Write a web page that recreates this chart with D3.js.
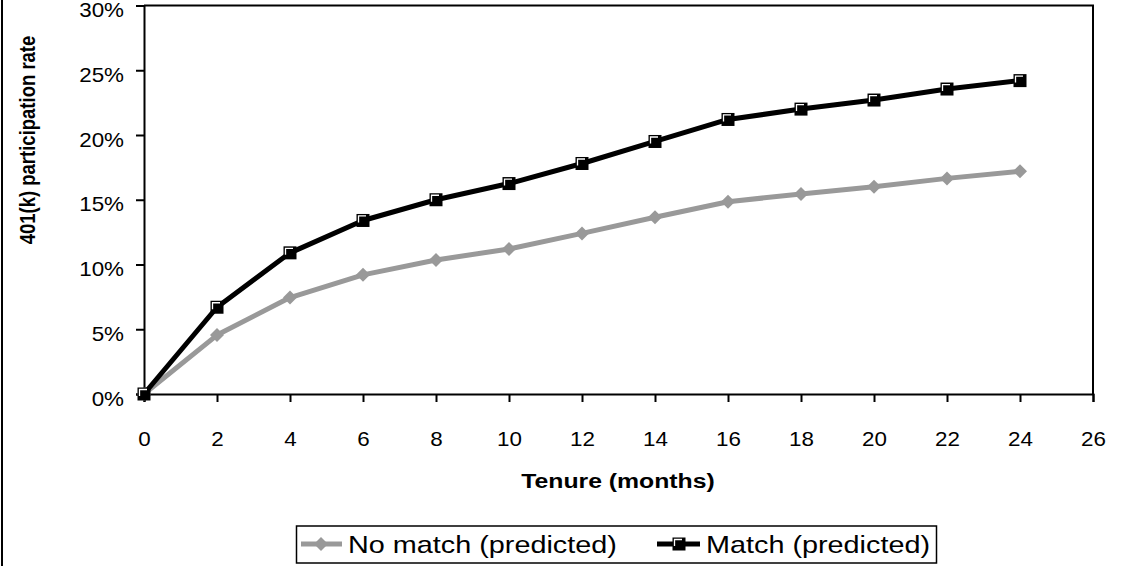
<!DOCTYPE html>
<html><head><meta charset="utf-8">
<script src="https://cdn.jsdelivr.net/npm/d3@7"></script>
<style>body{margin:0;background:#fff}svg{display:block;font-family:"Liberation Sans",Arial,sans-serif}</style>
</head><body>
<svg id="c" width="1129" height="566"></svg>
<script>
const tenure = [0,2,4,6,8,10,12,14,16,18,20,22,24];
const noMatch = [0,4.55,7.45,9.2,10.35,11.2,12.4,13.65,14.85,15.45,16.0,16.65,17.2];
const match = [0,6.7,10.9,13.4,15.0,16.25,17.8,19.5,21.2,22.0,22.7,23.55,24.2];
const xTicks = [0,2,4,6,8,10,12,14,16,18,20,22,24,26];
const yTicks = [0,5,10,15,20,25,30];
const seriesNames = ["No match (predicted)","Match (predicted)"];

const svg = d3.select("#c");
const L=144, R=1093, T=5.5, B=394;
const SX = 1.12; // horizontal stretch of the text in the reference
const x = d3.scaleLinear().domain([0,26]).range([L,R]);
const y = d3.scaleLinear().domain([0,30]).range([B,T]);

// outer frame (only left edge visible)
svg.append("rect").attr("x",2).attr("y",-10).attr("width",2000).attr("height",2000)
  .attr("fill","none").attr("stroke","#000").attr("stroke-width",2);

// plot frame top/right
svg.append("path").attr("d",`M${L},${T}H${R}V${B}`).attr("fill","none").attr("stroke","#000").attr("stroke-width",2);

const yAxis = svg.append("g").attr("transform",`translate(${L},0)`)
  .call(d3.axisLeft(y).tickValues(yTicks).tickFormat(d=>d+"%").tickSize(8).tickPadding(0));
const xAxis = svg.append("g").attr("transform",`translate(0,${B})`)
  .call(d3.axisBottom(x).tickValues(xTicks).tickSize(8).tickPadding(0));
[yAxis,xAxis].forEach(g=>{
  g.select(".domain").attr("stroke","#000").attr("stroke-width",2);
  g.selectAll(".tick line").attr("stroke","#000").attr("stroke-width",2);
  g.selectAll("text").attr("font-size",20).attr("fill","#000").attr("font-family","'Liberation Sans', Arial, sans-serif")
    .attr("x",null).attr("y",null).attr("dy",null);
});
yAxis.selectAll("text").attr("transform",`translate(-20,11) scale(${SX},1)`);
xAxis.selectAll("text").attr("transform",`translate(0,52) scale(${SX},1)`);

svg.append("text").attr("transform",`translate(618,488) scale(1.18,1)`).attr("text-anchor","middle")
  .attr("font-weight","bold").attr("font-size",21).text("Tenure (months)");
svg.append("text").attr("transform",`translate(35,140) scale(1.2,1) rotate(-90)`).attr("text-anchor","middle")
  .attr("font-weight","bold").attr("font-size",18.5).text("401(k) participation rate");

const line = d3.line().x(d=>x(d[0])).y(d=>y(d[1]));
const gray="#999999";
function diamond(g,cx,cy){
  g.append("path").attr("d",`M${cx},${cy-7}L${cx+7},${cy}L${cx},${cy+7}L${cx-7},${cy}Z`).attr("fill",gray);
}
function square(g,cx,cy){
  g.append("rect").attr("x",cx-6.5).attr("y",cy-6.5).attr("width",13).attr("height",13).attr("fill","#000");
  g.append("path").attr("d",`M${cx-4.5},${cy+2}V${cy-4.5}H${cx+3}`).attr("fill","none").attr("stroke","#fff").attr("stroke-width",1.3);
}
const nm = tenure.map((t,i)=>[t,noMatch[i]]);
const m = tenure.map((t,i)=>[t,match[i]]);
svg.append("path").datum(nm).attr("d",line).attr("fill","none").attr("stroke",gray).attr("stroke-width",5).attr("stroke-linejoin","round");
const gd = svg.append("g");
nm.forEach(d=>diamond(gd,x(d[0]),y(d[1])));
svg.append("path").datum(m).attr("d",line).attr("fill","none").attr("stroke","#000").attr("stroke-width",5).attr("stroke-linejoin","round");
const gs = svg.append("g");
m.forEach(d=>square(gs,x(d[0]),y(d[1])));

// legend
const lg = svg.append("g");
lg.append("rect").attr("x",296.5).attr("y",526).attr("width",640).attr("height",37).attr("fill","#fff").attr("stroke","#000").attr("stroke-width",1.5);
lg.append("line").attr("x1",301).attr("x2",342).attr("y1",544).attr("y2",544).attr("stroke",gray).attr("stroke-width",5);
diamond(lg,321,544);
lg.append("text").attr("transform",`translate(348,553) scale(1.2,1)`).attr("font-size",24).text(seriesNames[0]);
lg.append("line").attr("x1",657).attr("x2",700).attr("y1",544).attr("y2",544).attr("stroke","#000").attr("stroke-width",5);
square(lg,679,544);
lg.append("text").attr("transform",`translate(706,553) scale(1.2,1)`).attr("font-size",24).text(seriesNames[1]);
</script>
</body></html>
